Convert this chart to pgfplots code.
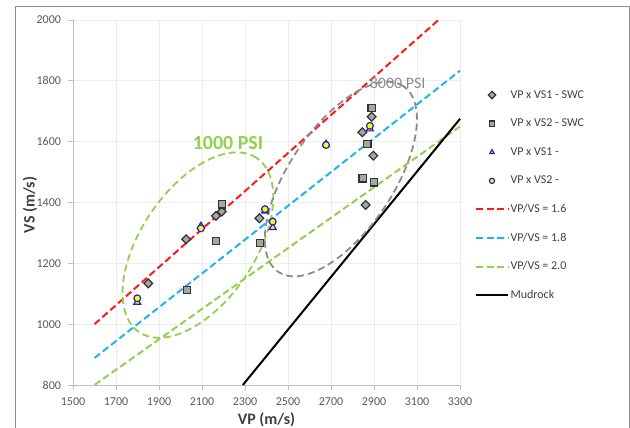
\documentclass[border=0pt]{standalone}
\usepackage{pgfplots}
\pgfplotsset{compat=1.18}
\usepackage{fontspec}
\setmainfont{Carlito}
\definecolor{tickgray}{HTML}{595959}
\definecolor{labgray}{HTML}{404040}
\definecolor{lred}{HTML}{FF1A1A}
\definecolor{lblue}{HTML}{1FB4E8}
\definecolor{lgreen}{HTML}{92D050}
\definecolor{mgray}{HTML}{A6A6A6}
\definecolor{medge}{HTML}{333333}
\definecolor{mblue}{HTML}{2222CC}
\definecolor{myellow}{HTML}{FFFF00}
\definecolor{egray}{HTML}{8C8C8C}
\pgfplotsset{
  lineleg/.style={legend image code/.code={\draw[##1] (0pt,0pt) -- (32pt,0pt);}},
  markleg/.style={legend image code/.code={\path[draw=none,fill=none] (0pt,0pt) -- (32pt,0pt); \draw[##1, mark size=2.6pt] plot coordinates {(16pt,0pt)};}},
}
\begin{document}
\begin{tikzpicture}
\useasboundingbox (0,0) rectangle (630pt,428pt);
\draw[color=egray, line width=0.9pt] (15pt,0pt) -- (15pt,422pt) -- (629pt,422pt) -- (629pt,0pt);
\begin{axis}[
  at={(73pt,43pt)}, anchor=south west, scale only axis,
  width=387pt, height=365pt,
  xmin=1500, xmax=3300, ymin=800, ymax=2000,
  xtick={1500,1700,...,3300}, ytick={800,1000,...,2000},
  axis lines*=left,
  xtick pos=bottom, ytick pos=left,
  grid=major, major grid style={color=black!7, line width=0.7pt},
  tick align=outside, major tick length=5pt, tick style={color=black!25, line width=0.8pt},
  axis line style={color=black!25, line width=0.9pt, -},
  ticklabel style={font=\fontsize{12}{14}\selectfont, text=tickgray},
  xticklabel style={yshift=-4pt},
  yticklabel style={xshift=-3.5pt},
  /pgf/number format/assume math mode=true, /pgf/number format/1000 sep={},
  xlabel={VP (m/s)}, ylabel={VS (m/s)},
  every axis x label/.style={at={(axis description cs:0.5,0)}, yshift=-35pt, anchor=center,
    font=\bfseries\fontsize{16}{19}\selectfont, text=labgray},
  every axis y label/.style={at={(axis description cs:0,0.5)}, xshift=-43pt, yshift=-2.5pt, rotate=90, anchor=center,
    font=\bfseries\fontsize{16}{19}\selectfont, text=labgray},
  clip=false,
  legend style={at={(axis description cs:1.0388,0.815)}, anchor=north west, draw=none, fill=none,
    inner sep=0pt, outer sep=0pt, row sep=13.6pt,
    font=\fontsize{12}{14}\selectfont, text=labgray,
    nodes={inner sep=1.5pt, text height=9pt, text depth=3pt},
    cells={anchor=west}},
]
% VP x VS1 - SWC (diamonds)
\addplot[markleg, only marks, mark=square*, mark size=3.1pt, mark options={rotate=45, fill=mgray, draw=medge, line width=1.2pt}]
  coordinates {(1850,1134) (2026,1279) (2165,1356) (2192,1370) (2367,1348) (2861,1392) (2846,1631) (2889,1682) (2897,1554)};
\addlegendentry{VP x VS1 - SWC}
% VP x VS2 - SWC (squares)
\addplot[markleg, only marks, mark=square*, mark size=3.6pt, mark options={fill=mgray, draw=medge, line width=1.2pt}]
  coordinates {(2029,1112) (2165,1273) (2192,1394) (2370,1266) (2889,1711) (2869,1592) (2847,1479) (2900,1466)};
\addlegendentry{VP x VS2 - SWC}
% VP x VS1 - (triangles)
\addplot[markleg, only marks, mark=triangle*, mark size=4pt, mark options={fill=myellow, draw=mblue, line width=1.2pt}]
  coordinates {(1799,1072) (2095,1322) (2393,1372) (2429,1318) (2677,1592) (2881,1642)};
\addlegendentry{VP x VS1 -}
% VP x VS2 - (circles)
\addplot[markleg, only marks, mark=*, mark size=3.4pt, mark options={fill=myellow, draw=mblue, line width=1.2pt}]
  coordinates {(1799,1085) (2095,1315) (2393,1378) (2429,1337) (2677,1589) (2881,1652)};
\addlegendentry{VP x VS2 -}
% lines
\addplot[lineleg, lred, line width=2pt, dash pattern=on 7pt off 3.5pt]
  coordinates {(1600,1000) (3200,2000)};
\addlegendentry{VP/VS = 1.6}
\addplot[lineleg, lblue, line width=2pt, dash pattern=on 7pt off 3.5pt]
  coordinates {(1600,888.9) (3300,1833.3)};
\addlegendentry{VP/VS = 1.8}
\addplot[lineleg, lgreen, line width=2pt, dash pattern=on 7pt off 3.5pt]
  coordinates {(1600,800) (3300,1650)};
\addlegendentry{VP/VS = 2.0}
\addplot[lineleg, black, line width=2pt]
  coordinates {(2290,800) (3300,1675)};
\addlegendentry{Mudrock}
% annotations
\draw[lgreen, line width=1.8pt, dash pattern=on 7pt off 4pt, rotate around={56:(axis cs:2081,1260)}]
  (axis cs:2081,1260) ellipse (105pt and 57pt);
\draw[egray, line width=1.8pt, dash pattern=on 7pt off 4pt, rotate around={56:(axis cs:2746,1477)}]
  (axis cs:2746,1477) ellipse (112pt and 52pt);
\node[text=lgreen, font=\bfseries\fontsize{20}{24}\selectfont] at (axis cs:2221,1596) {1000 PSI};
\node[text=egray, font=\fontsize{16}{19}\selectfont] at (axis cs:3010,1793) {8000 PSI};
\end{axis}
\end{tikzpicture}
\end{document}
